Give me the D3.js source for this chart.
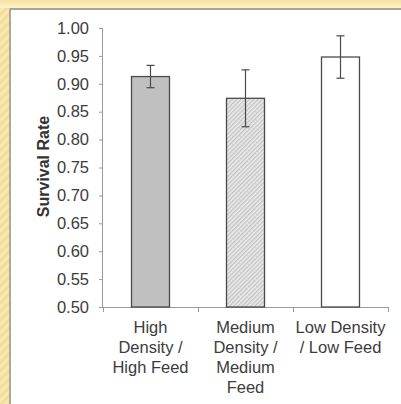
<!DOCTYPE html>
<html>
<head>
<meta charset="utf-8">
<script src="https://cdn.jsdelivr.net/npm/d3@7"></script>
<style>
  html, body { margin: 0; padding: 0; background: #fff; }
  svg { display: block; }
</style>
</head>
<body>
<svg id="chart" width="401" height="404"></svg>
<script>
// Survival rate by stocking treatment, with error bars
const categories = [
  ["High", "Density /", "High Feed"],
  ["Medium", "Density /", "Medium", "Feed"],
  ["Low Density", "/ Low Feed"]
];
const survival = [0.913, 0.874, 0.948];
const errors = [0.020, 0.051, 0.038];
const fills = ["#c0c0c0", "url(#hatch)", "#ffffff"];
const yTicks = [0.50, 0.55, 0.60, 0.65, 0.70, 0.75, 0.80, 0.85, 0.90, 0.95, 1.00];

const svg = d3.select("#chart");
const W = 401, H = 404;
const defs = svg.append("defs");

// decorative slide frame
const stripes = defs.append("pattern")
  .attr("id", "frameStripes").attr("patternUnits", "userSpaceOnUse")
  .attr("width", 6).attr("height", 6)
  .attr("patternTransform", "rotate(45)");
stripes.append("rect").attr("width", 6).attr("height", 6).attr("fill", "#f3dd9c");
stripes.append("rect").attr("width", 3).attr("height", 6).attr("fill", "#f8e8b4");

const topGrad = defs.append("linearGradient").attr("id", "topGrad")
  .attr("x1", 0).attr("y1", 0).attr("x2", 0).attr("y2", 1);
topGrad.append("stop").attr("offset", 0).attr("stop-color", "#f7e3a2");
topGrad.append("stop").attr("offset", 1).attr("stop-color", "#fdf3c8");

svg.append("rect").attr("width", W).attr("height", H).attr("fill", "url(#frameStripes)");
svg.append("rect").attr("x", 0).attr("y", 0).attr("width", W).attr("height", 8).attr("fill", "url(#topGrad)");
svg.append("rect").attr("x", 10).attr("y", 10).attr("width", W - 10).attr("height", H - 10).attr("fill", "#ffffff");
svg.append("line").attr("x1", 9.5).attr("x2", W).attr("y1", 9).attr("y2", 9)
  .attr("stroke", "#a9a395").attr("stroke-width", 2);
svg.append("line").attr("x1", 10).attr("x2", 10).attr("y1", 9).attr("y2", H)
  .attr("stroke", "#b1a88f").attr("stroke-width", 2);

// hatch fill for the middle bar
const hatch = defs.append("pattern")
  .attr("id", "hatch").attr("patternUnits", "userSpaceOnUse")
  .attr("width", 3).attr("height", 3)
  .attr("patternTransform", "rotate(45)");
hatch.append("rect").attr("width", 3).attr("height", 3).attr("fill", "#ececec");
hatch.append("rect").attr("width", 1.4).attr("height", 3).attr("fill", "#c4c4c4");

const x0 = 103, x1 = 388, y0 = 307, y1 = 28;
const x = d3.scaleBand().domain(d3.range(categories.length)).range([x0, x1]).paddingInner(0.6).paddingOuter(0.3);
const y = d3.scaleLinear().domain([0.5, 1.0]).range([y0, y1]);

const font = "'Liberation Sans', Arial, sans-serif";
const textColor = "#3c3c3c";
const axisColor = "#9a9a9a";
const fontSize = "16.5px";

// y axis
const yAxis = svg.append("g").attr("transform", `translate(${x0},0)`)
  .call(d3.axisLeft(y).tickValues(yTicks).tickFormat(d3.format(".2f")).tickSize(4).tickPadding(10));
yAxis.select(".domain").attr("stroke", axisColor).attr("d", `M-0.5,${y0}V${y1}`);
yAxis.selectAll(".tick line").attr("stroke", axisColor);
yAxis.selectAll(".tick text").attr("fill", textColor).style("font-family", font).style("font-size", fontSize);

// x axis with category boundary ticks
const xg = svg.append("g");
xg.append("line").attr("x1", x0).attr("x2", x1).attr("y1", y0 + 0.5).attr("y2", y0 + 0.5).attr("stroke", axisColor);
const bounds = d3.range(categories.length + 1).map(i => x0 + i * (x1 - x0) / categories.length);
xg.selectAll("line.b").data(bounds).join("line").attr("class", "b")
  .attr("x1", d => Math.round(d) + 0.5).attr("x2", d => Math.round(d) + 0.5)
  .attr("y1", y0).attr("y2", y0 + 5).attr("stroke", axisColor);

// bars
svg.selectAll("rect.bar").data(survival).join("rect").attr("class", "bar")
  .attr("x", (d, i) => x(i)).attr("width", x.bandwidth())
  .attr("y", d => y(d)).attr("height", d => y0 - y(d))
  .attr("fill", (d, i) => fills[i])
  .attr("stroke", "#4a4a4a").attr("stroke-width", 1.3);

// error bars
const eb = svg.selectAll("g.err").data(survival).join("g").attr("class", "err")
  .attr("stroke", "#4a4a4a").attr("stroke-width", 1.2);
const cx = i => x(i) + x.bandwidth() / 2;
eb.append("line").attr("x1", (d, i) => cx(i)).attr("x2", (d, i) => cx(i))
  .attr("y1", (d, i) => y(d + errors[i])).attr("y2", (d, i) => y(d - errors[i]));
eb.append("line").attr("x1", (d, i) => cx(i) - 4).attr("x2", (d, i) => cx(i) + 4)
  .attr("y1", (d, i) => y(d + errors[i])).attr("y2", (d, i) => y(d + errors[i]));
eb.append("line").attr("x1", (d, i) => cx(i) - 4).attr("x2", (d, i) => cx(i) + 4)
  .attr("y1", (d, i) => y(d - errors[i])).attr("y2", (d, i) => y(d - errors[i]));

// category labels
categories.forEach((lines, i) => {
  const t = svg.append("text").attr("x", cx(i)).attr("y", 333)
    .attr("text-anchor", "middle").attr("fill", textColor)
    .style("font-family", font).style("font-size", fontSize);
  lines.forEach((s, k) => t.append("tspan").attr("x", cx(i)).attr("dy", k === 0 ? 0 : 20).text(s));
});

// y axis title
svg.append("text")
  .attr("transform", `translate(${49},${(y0 + y1) / 2 - 1}) rotate(-90)`)
  .attr("text-anchor", "middle").attr("fill", "#333")
  .style("font-family", font).style("font-size", "16px").style("font-weight", "bold")
  .text("Survival Rate");
</script>
</body>
</html>
